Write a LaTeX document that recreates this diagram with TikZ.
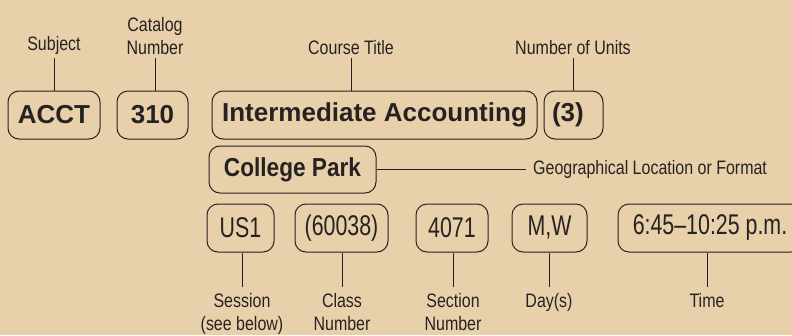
\documentclass[tikz,border=0pt]{standalone}
\usepackage{fontspec}
\setmainfont{Liberation Sans}
\newfontfamily\condfont[FakeStretch=0.82]{Liberation Sans}
\newfontfamily\valfont[FakeStretch=0.75]{Liberation Sans}
\newfontfamily\parkfont[FakeStretch=0.87]{Liberation Sans}
\usepackage{xcolor}
\usetikzlibrary{calc,positioning}
\definecolor{paper}{RGB}{232,208,170}
\definecolor{ink}{RGB}{38,34,34}

\begin{document}
\begin{tikzpicture}[
x=1pt,y=1pt,
MyBoxes/.style={draw=ink,line width=1pt,rounded corners=11pt,minimum height=48pt,inner sep=0pt,text=ink},
BigBold/.style={MyBoxes,font=\fontsize{26}{30}\selectfont\bfseries},
Values/.style={MyBoxes,font=\valfont\fontsize{28.5}{32}\selectfont},
Labels/.style={text=ink,font=\condfont\fontsize{19.5}{23.5}\selectfont,align=center,inner xsep=2pt},
TopLabels/.style={Labels,anchor=south,inner ysep=3pt},
BottomLabels/.style={Labels,anchor=north,inner ysep=6pt},
Leaders/.style={draw=ink,line width=0.9pt}
]
\fill[paper] (0,0) rectangle (792,-335);
\clip (0,0) rectangle (792,-335);

% first line of the listing
\node[BigBold,minimum width=92pt] (acct) at (54,-115) {ACCT};
\node[BigBold,minimum width=71pt] (cat) at (152.5,-115) {310};
\node[BigBold,minimum width=325pt] (title) at (374.5,-115) {Intermediate Accounting};
\node[BigBold,minimum width=59pt,text width=43pt,inner xsep=8pt,align=left] (units) at (573.5,-115) {(3)};

% what each field means
\node[TopLabels] (subj) at (54,-58) {Subject};
\node[TopLabels] (catlab) at (155,-58) {Catalog\\Number};
\node[TopLabels] (titlelab) at (351,-58) {Course Title};
\node[TopLabels] (unitslab) at (573,-58) {Number of Units};

\draw[Leaders] (subj.south) -- (subj.south |- acct.north);
\draw[Leaders] (catlab.south) -- (catlab.south |- cat.north);
\draw[Leaders] (titlelab.south) -- (titlelab.south |- title.north);
\draw[Leaders] (unitslab.south) -- (unitslab.south |- units.north);

% location
\node[MyBoxes,minimum width=167pt,minimum height=47pt,font=\parkfont\bfseries\fontsize{26}{30}\selectfont] (park) at (292.5,-169.5) {College Park};
\node[Labels,anchor=west,inner xsep=7pt] (geo) at (526,-169.5) {Geographical Location or Format};
\draw[Leaders] (park.east) -- (geo.west);

% second line of the listing
\node[Values,minimum width=67pt] (us1) at (240.5,-228) {US1};
\node[Values,minimum width=93pt] (cls) at (341.5,-228) {(60038)};
\node[Values,minimum width=72pt] (sec) at (452,-228) {4071};
\node[Values,minimum width=75pt] (day) at (549.5,-228) {M,W};
\node[Values,minimum width=184pt] (time) at (710,-228) {6:45\textendash 10:25 p.m.};

\node[BottomLabels] (seslab) at (242,-287) {Session\\(see below)};
\node[BottomLabels] (clslab) at (342,-287) {Class\\Number};
\node[BottomLabels] (seclab) at (453,-287) {Section\\Number};
\node[BottomLabels] (daylab) at (549,-287) {Day(s)};
\node[BottomLabels] (timelab) at (707,-287) {Time};

\draw[Leaders] (seslab.north) -- (seslab.north |- us1.south);
\draw[Leaders] (clslab.north) -- (clslab.north |- cls.south);
\draw[Leaders] (seclab.north) -- (seclab.north |- sec.south);
\draw[Leaders] (daylab.north) -- (daylab.north |- day.south);
\draw[Leaders] (timelab.north) -- (timelab.north |- time.south);

\end{tikzpicture}
\end{document}
